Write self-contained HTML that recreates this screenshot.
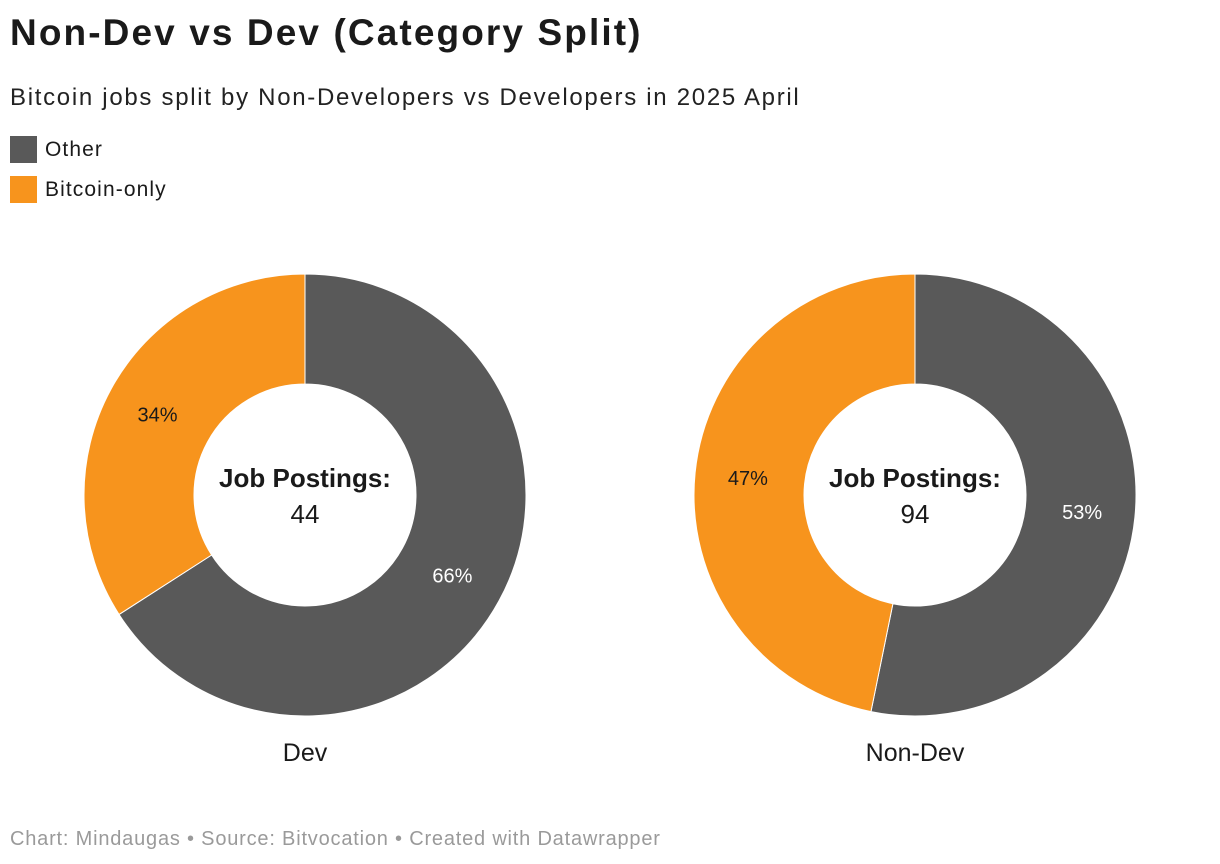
<!DOCTYPE html>
<html><head><meta charset="utf-8"><style>
body{margin:0;background:#fff;width:1220px;height:864px;overflow:hidden;font-family:"Liberation Sans",sans-serif;color:#1a1a1a}
.t{position:absolute;left:10px;top:12px;font-size:37px;font-weight:bold;margin:0;letter-spacing:2.1px}
.s{position:absolute;left:10px;top:84px;font-size:24px;color:#222;letter-spacing:1.7px}
.lg{position:absolute;left:10px;font-size:21px;display:flex;align-items:center;letter-spacing:1.1px}
.lg span{display:inline-block;width:27px;height:27px;margin-right:8px}
.f{position:absolute;left:10px;top:828px;font-size:20px;color:#9a9a9a;letter-spacing:0.8px}
</style></head><body>
<h1 class="t">Non-Dev vs Dev (Category Split)</h1>
<div class="s">Bitcoin jobs split by Non-Developers vs Developers in 2025 April</div>
<div class="lg" style="top:136px"><span style="background:#595959"></span>Other</div>
<div class="lg" style="top:176px"><span style="background:#f7941d"></span>Bitcoin-only</div>
<svg id="c" width="1220" height="864" style="position:absolute;left:0;top:0"></svg>
<div class="f">Chart: Mindaugas • Source: Bitvocation • Created with Datawrapper</div>
<script>
const charts = ["Dev","Non-Dev"];
const otherVals = [29,50];
const btcVals = [15,44];
const totals = [44,94];
const colors = ["#595959","#f7941d"];
const NS="http://www.w3.org/2000/svg";
const svg=document.getElementById('c');
const cxs=[305,915], cy=495, R=221, r=111, rl=168;
function pt(a,rad,cx){return [cx+rad*Math.sin(a), cy-rad*Math.cos(a)];}
charts.forEach((name,i)=>{
  const cx=cxs[i];
  const vals=[otherVals[i],btcVals[i]];
  const sum=vals[0]+vals[1];
  let a0=0;
  vals.forEach((v,j)=>{
    const a1=a0+v/sum*2*Math.PI;
    const large=(a1-a0)>Math.PI?1:0;
    const [x0,y0]=pt(a0,R,cx),[x1,y1]=pt(a1,R,cx),[x2,y2]=pt(a1,r,cx),[x3,y3]=pt(a0,r,cx);
    const p=document.createElementNS(NS,'path');
    p.setAttribute('d',`M${x0},${y0}A${R},${R} 0 ${large} 1 ${x1},${y1}L${x2},${y2}A${r},${r} 0 ${large} 0 ${x3},${y3}Z`);
    p.setAttribute('fill',colors[j]);p.setAttribute('stroke','#fff');p.setAttribute('stroke-width','1');
    
    
    svg.appendChild(p);
    const [lx,ly]=pt((a0+a1)/2,rl,cx);
    const t=document.createElementNS(NS,'text');
    t.setAttribute('x',lx);t.setAttribute('y',ly+7);t.setAttribute('text-anchor','middle');
    t.setAttribute('font-size','20');t.setAttribute('fill',j==0?'#fff':'#1a1a1a');
    t.textContent=Math.round(v/sum*100)+'%';
    
    
    svg.appendChild(t);
    a0=a1;
  });
  const mk=(y,txt,sz,w,nm)=>{const t=document.createElementNS(NS,'text');t.setAttribute('x',cx);t.setAttribute('y',y);t.setAttribute('text-anchor','middle');t.setAttribute('font-size',sz);if(w)t.setAttribute('font-weight','bold');t.setAttribute('fill','#1a1a1a');t.textContent=txt;
    
    
    svg.appendChild(t);};
  mk(487,'Job Postings:',26,true,'center-title');
  mk(523,String(totals[i]),26,false,'center-total');
  mk(761,name,25,false,'donut-label');
});
</script>
</body></html>
